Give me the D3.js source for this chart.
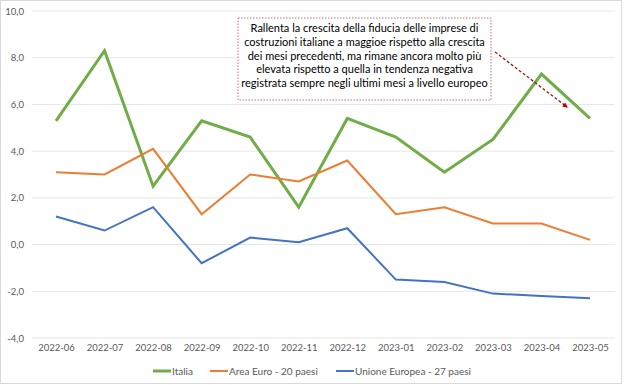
<!DOCTYPE html>
<html>
<head>
<meta charset="utf-8">
<script src="https://cdn.jsdelivr.net/npm/d3@7"></script>
<style>
  body { margin: 0; background: #fff; }
  svg { display: block; font-family: Lato, "Open Sans", sans-serif; }
</style>
</head>
<body>
<script>
var w = 624;
var h = 385;

var months = ["2022-06", "2022-07", "2022-08", "2022-09", "2022-10", "2022-11",
              "2022-12", "2023-01", "2023-02", "2023-03", "2023-04", "2023-05"];
var italia = [5.3, 8.3, 2.5, 5.3, 4.6, 1.6, 5.4, 4.6, 3.1, 4.5, 7.3, 5.4];
var areaEuro = [3.1, 3.0, 4.1, 1.3, 3.0, 2.7, 3.6, 1.3, 1.6, 0.9, 0.9, 0.2];
var unioneEuropea = [1.2, 0.6, 1.6, -0.8, 0.3, 0.1, 0.7, -1.5, -1.6, -2.1, -2.2, -2.3];
var yTicks = [-4, -2, 0, 2, 4, 6, 8, 10];
var seriesNames = ["Italia", "Area Euro - 20 paesi", "Unione Europea - 27 paesi"];
var seriesColors = ["#70ad47", "#ed7d31", "#4472c4"];
var note = ["Rallenta la crescita della fiducia delle imprese di",
            "costruzioni italiane a maggioe rispetto alla crescita",
            "dei mesi precedenti, ma rimane ancora molto più",
            "elevata rispetto a quella in tendenza negativa",
            "registrata sempre negli ultimi mesi a livello europeo"];

var series = [italia, areaEuro, unioneEuropea];

var svg = d3.select("body").append("svg")
    .attr("width", w)
    .attr("height", h);

// chart border
svg.append("rect")
    .attr("x", 0.5).attr("y", 0.5)
    .attr("width", w - 3).attr("height", h - 2)
    .attr("fill", "#fff")
    .attr("stroke", "#d9d9d9");

var xScale = d3.scalePoint()
    .domain(months)
    .range([56, 590]);

var yScale = d3.scaleLinear()
    .domain([-4, 10])
    .range([338, 11]);

var fmt = function(d) { return d3.format(".1f")(d).replace(".", ",").replace("−", "-"); };

// gridlines
svg.append("g")
    .selectAll("line")
    .data(yTicks)
    .enter()
    .append("line")
    .attr("x1", 32).attr("x2", 615)
    .attr("y1", function(d) { return yScale(d); })
    .attr("y2", function(d) { return yScale(d); })
    .attr("stroke", "#e6e6e6")
    .attr("stroke-width", 1);

// y axis labels
var yAxis = d3.axisLeft(yScale).tickValues(yTicks).tickFormat(fmt).tickSize(0).tickPadding(0);
svg.append("g")
    .attr("transform", "translate(24,0)")
    .call(yAxis)
    .call(function(g) { g.select(".domain").remove(); })
    .selectAll("text")
    .attr("fill", "#595959")
    .attr("font-size", "9.5px")
    .attr("font-family", "Lato, sans-serif");

// x axis labels
var xAxis = d3.axisBottom(xScale).tickSize(0).tickPadding(0);
svg.append("g")
    .attr("transform", "translate(0,344)")
    .call(xAxis)
    .call(function(g) { g.select(".domain").remove(); })
    .selectAll("text")
    .attr("fill", "#595959")
    .attr("font-size", "9.5px")
    .attr("font-family", "Lato, sans-serif");

// lines
var line = d3.line()
    .x(function(d, i) { return xScale(months[i]); })
    .y(function(d) { return yScale(d); });

svg.selectAll("path.series")
    .data(series)
    .enter()
    .append("path")
    .attr("class", "series")
    .attr("d", line)
    .attr("fill", "none")
    .attr("stroke", function(d, i) { return seriesColors[i]; })
    .attr("stroke-width", function(d, i) { return i == 0 ? 3 : 2; })
    .attr("stroke-linejoin", "miter");

// annotation box
svg.append("rect")
    .attr("x", 238).attr("y", 18)
    .attr("width", 253).attr("height", 82)
    .attr("fill", "#fff")
    .attr("stroke", "#d06a6a")
    .attr("stroke-width", 1)
    .attr("stroke-dasharray", "1.5,1.5");

svg.append("g")
    .selectAll("text")
    .data(note)
    .enter()
    .append("text")
    .attr("x", 364.5)
    .attr("y", function(d, i) { return 32 + i * 13.8; })
    .attr("text-anchor", "middle")
    .attr("font-size", "11px")
    .attr("fill", "#000")
    .text(function(d) { return d; });

// arrow
svg.append("defs").append("marker")
    .attr("id", "arrow")
    .attr("viewBox", "0 0 10 10")
    .attr("refX", 8).attr("refY", 5)
    .attr("markerWidth", 4).attr("markerHeight", 4)
    .attr("orient", "auto")
    .append("path")
    .attr("d", "M0,0L10,5L0,10z")
    .attr("fill", "#c00000");

svg.append("line")
    .attr("x1", 495).attr("y1", 52)
    .attr("x2", 567).attr("y2", 107)
    .attr("stroke", "#a01818")
    .attr("stroke-width", 1.3)
    .attr("stroke-dasharray", "3,2")
    .attr("marker-end", "url(#arrow)");

// legend
var legendX = [153, 210, 336];
var legend = svg.append("g")
    .selectAll("g")
    .data(seriesNames)
    .enter()
    .append("g")
    .attr("transform", function(d, i) { return "translate(" + legendX[i] + ",371)"; });

legend.append("line")
    .attr("x1", 0).attr("x2", 18)
    .attr("stroke", function(d, i) { return seriesColors[i]; })
    .attr("stroke-width", function(d, i) { return i == 0 ? 3 : 2; });

legend.append("text")
    .attr("x", 19)
    .attr("dy", "0.35em")
    .attr("font-size", "10px")
    .attr("fill", "#595959")
    .text(function(d) { return d; });
</script>
</body>
</html>
